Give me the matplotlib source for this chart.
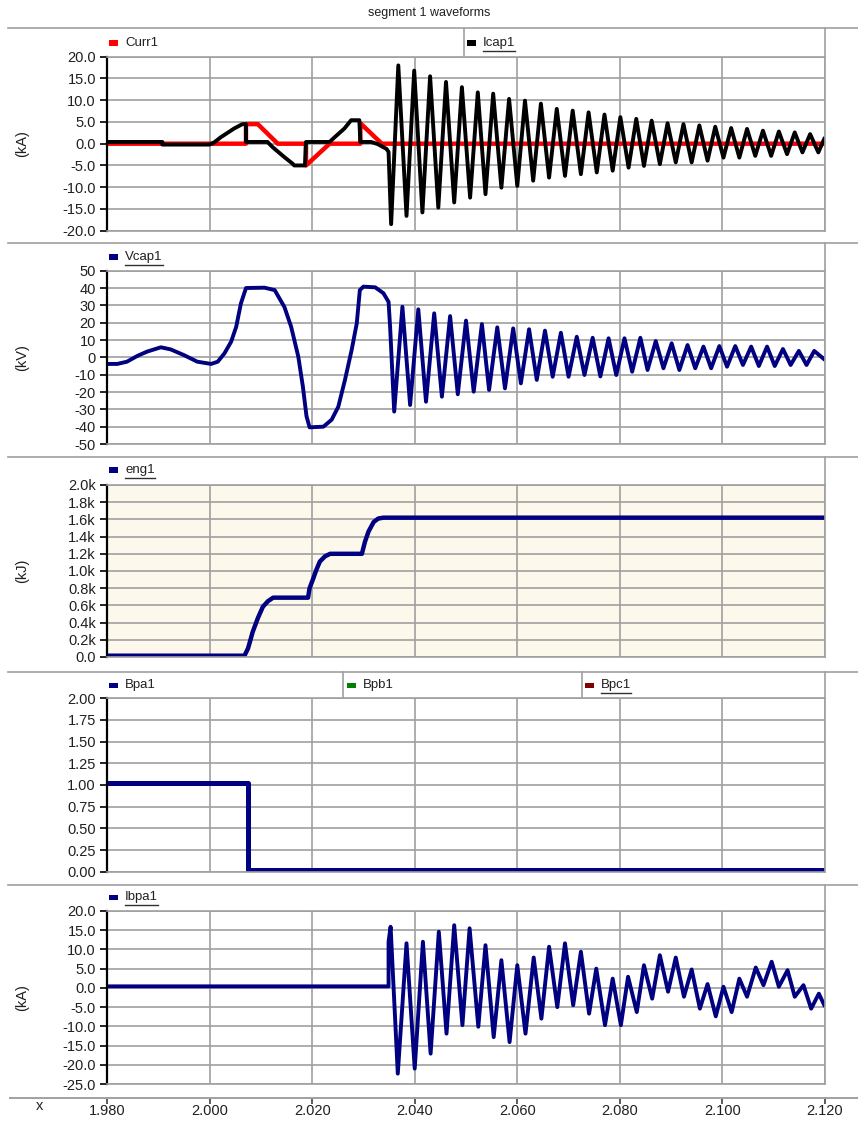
import numpy as np
import matplotlib
matplotlib.use("Agg")
import matplotlib.pyplot as plt
from matplotlib.lines import Line2D
from matplotlib.patches import Rectangle
from matplotlib.ticker import FixedLocator, FuncFormatter

plt.rcParams['font.family'] = ['Liberation Sans', 'DejaVu Sans']

# ---- data (time in s) ----
x_ticks = [1.980, 2.000, 2.020, 2.040, 2.060, 2.080, 2.100, 2.120]
x_tick_labels = ['1.980', '2.000', '2.020', '2.040', '2.060', '2.080', '2.100', '2.120']

# Curr1 (kA)
curr_t = [1.980, 2.0071, 2.0071, 2.0094, 2.0133, 2.0188, 2.0188, 2.0234, 2.0294, 2.0294, 2.0336, 2.120]
curr_v = [0.0, 0.0, 4.5, 4.5, 0.0, 0.0, -5.0, 0.0, 0.0, 4.7, 0.0, 0.0]

# Icap1 (kA): switching part, then ringing peaks / troughs
icap_pre_t = [1.980, 1.9908, 1.9908, 2.0000, 2.0009, 2.0022, 2.0048, 2.0064, 2.0071, 2.0071,
              2.0113, 2.0123, 2.0146, 2.0162, 2.0165, 2.0186, 2.0188, 2.0234, 2.0244, 2.0263,
              2.0276, 2.0292, 2.0294, 2.0315, 2.0328, 2.0345, 2.0349, 2.0354]
icap_pre_v = [0.4, 0.4, -0.2, -0.2, 0.3, 1.5, 3.5, 4.5, 4.5, 0.4,
              0.4, -0.8, -3.1, -4.6, -5.0, -5.0, 0.4, 0.4, 1.5, 3.5,
              5.4, 5.4, 0.4, 0.4, -0.1, -1.2, -1.9, -18.5]
icap_peak_t = [2.0368, 2.0399, 2.0430, 2.0461, 2.0492, 2.0523, 2.0553, 2.0584, 2.0615, 2.0646,
               2.0677, 2.0708, 2.0739, 2.0770, 2.0801, 2.0832, 2.0862, 2.0893, 2.0924, 2.0955,
               2.0986, 2.1017, 2.1048, 2.1079, 2.1110, 2.1141, 2.1171]
icap_peak_v = [18.0, 16.8, 15.5, 14.2, 13.0, 11.8, 11.5, 10.3, 9.9, 9.2,
               8.0, 7.6, 7.2, 6.7, 6.1, 5.7, 5.3, 4.7, 4.5, 4.2,
               3.9, 3.6, 3.4, 3.0, 2.8, 2.6, 2.2]
icap_trough_t = [2.0384, 2.0415, 2.0446, 2.0477, 2.0508, 2.0538, 2.0569, 2.0600, 2.0631, 2.0662,
                 2.0693, 2.0724, 2.0755, 2.0786, 2.0817, 2.0847, 2.0878, 2.0909, 2.0940, 2.0971,
                 2.1002, 2.1033, 2.1064, 2.1095, 2.1126, 2.1156, 2.1187]
icap_trough_v = [-16.6, -15.8, -14.7, -13.5, -12.4, -11.6, -10.1, -9.7, -8.5, -7.8,
                 -7.4, -7.0, -6.6, -6.2, -5.5, -5.1, -4.7, -4.3, -4.3, -3.9,
                 -3.2, -3.2, -2.8, -2.8, -2.4, -2.0, -2.0]
icap_end = (2.120, 1.5)

# Vcap1 (kV)
vcap_pre_t = [1.980, 1.9820, 1.9839, 1.9859, 1.9878, 1.9905, 1.9924, 1.9950, 1.9976, 2.0003,
              2.0016, 2.0029, 2.0042, 2.0052, 2.0061, 2.0071, 2.0107, 2.0127, 2.0146, 2.0159,
              2.0173, 2.0182, 2.0189, 2.0195, 2.0222, 2.0238, 2.0251, 2.0264, 2.0277, 2.0287,
              2.0293, 2.0300, 2.0323, 2.0339, 2.0349, 2.0352]
vcap_pre_v = [-3.8, -3.8, -2.5, 0.8, 3.3, 5.8, 4.6, 1.3, -2.5, -3.8,
              -2.5, 2.3, 9.0, 17.7, 31.0, 40.0, 40.2, 38.8, 29.0, 17.7,
              0.4, -17.0, -34.0, -40.4, -40.0, -36.0, -28.5, -13.0, 4.2, 19.6,
              38.8, 40.8, 40.4, 37.0, 32.0, 17.7]
vcap_trough_t = [2.0360, 2.0391, 2.0422, 2.0453, 2.0484, 2.0515, 2.0545, 2.0576, 2.0607, 2.0638,
                 2.0669, 2.0700, 2.0731, 2.0762, 2.0793, 2.0824, 2.0854, 2.0885, 2.0916, 2.0947,
                 2.0978, 2.1009, 2.1040, 2.1071, 2.1102, 2.1133, 2.1164]
vcap_trough_v = [-31.3, -27.5, -25.6, -22.7, -21.3, -19.8, -18.8, -17.9, -15.0, -13.0,
                 -11.2, -11.2, -10.2, -11.0, -10.2, -8.3, -7.3, -6.3, -7.3, -6.3,
                 -6.3, -5.4, -4.4, -5.0, -5.0, -4.4, -4.4]
vcap_peak_t = [2.0376, 2.0407, 2.0438, 2.0469, 2.0500, 2.0531, 2.0561, 2.0592, 2.0623, 2.0654,
               2.0685, 2.0716, 2.0747, 2.0778, 2.0809, 2.0840, 2.0870, 2.0901, 2.0932, 2.0963,
               2.0994, 2.1025, 2.1056, 2.1087, 2.1118, 2.1149, 2.1179]
vcap_peak_v = [29.2, 27.7, 25.4, 23.8, 21.2, 19.2, 17.3, 16.7, 16.2, 15.4,
               14.2, 11.9, 11.3, 11.0, 11.0, 11.3, 9.4, 8.1, 7.1, 6.2,
               6.5, 6.5, 6.2, 6.2, 4.8, 3.7, 3.7]
vcap_end = (2.120, -1.5)

# eng1 (kJ)
eng_t = [1.980, 2.0068, 2.0075, 2.0084, 2.0094, 2.0104, 2.0114, 2.0124, 2.0192, 2.0195,
         2.0202, 2.0208, 2.0215, 2.0225, 2.0235, 2.0297, 2.0303, 2.0310, 2.0320, 2.0329,
         2.0339, 2.120]
eng_v = [15, 15, 100, 290, 450, 585, 650, 690, 690, 800,
         910, 1010, 1110, 1170, 1200, 1200, 1340, 1460, 1570, 1610,
         1620, 1620]

# Bpa1
bpa_t = [1.980, 2.0074, 2.0074, 2.120]
bpa_v = [1.02, 1.02, 0.02, 0.02]

# Ibpa1 (kA)
ibpa_t = [1.980, 2.0349, 2.0349, 2.0353, 2.0367, 2.0384, 2.0400, 2.0416, 2.0431, 2.0447,
          2.0462, 2.0477, 2.0493, 2.0507, 2.0524, 2.0538, 2.0554, 2.0569, 2.0585, 2.0600,
          2.0616, 2.0632, 2.0647, 2.0662, 2.0678, 2.0693, 2.0709, 2.0724, 2.0740, 2.0754,
          2.0771, 2.0786, 2.0802, 2.0816, 2.0833, 2.0847, 2.0863, 2.0878, 2.0894, 2.0909,
          2.0925, 2.0940, 2.0956, 2.0971, 2.0987, 2.1002, 2.1018, 2.1033, 2.1048, 2.1065,
          2.1080, 2.1096, 2.1110, 2.1127, 2.1141, 2.1158, 2.1173, 2.1188, 2.1200]
ibpa_v = [0.4, 0.4, 12.0, 15.9, -22.3, 11.6, -21.0, 12.0, -17.1, 14.6,
          -11.9, 16.3, -9.7, 15.5, -10.1, 11.1, -12.8, 7.2, -14.1, 5.9,
          -11.9, 7.9, -8.0, 10.7, -5.0, 11.6, -4.5, 9.4, -6.7, 5.0,
          -9.7, 2.4, -9.7, 2.9, -6.3, 5.9, -2.8, 8.5, -1.0, 7.9,
          -2.3, 4.8, -5.4, 1.0, -7.4, 0.3, -6.3, 2.4, -2.3, 5.3,
          0.7, 6.8, 0.3, 4.6, -2.3, 0.7, -5.4, -1.5, -4.9]

# ---- build the ringing traces (interleave extrema) ----
icap_t = icap_pre_t + list(np.ravel(np.column_stack([icap_peak_t, icap_trough_t]))) + [icap_end[0]]
icap_v = icap_pre_v + list(np.ravel(np.column_stack([icap_peak_v, icap_trough_v]))) + [icap_end[1]]
vcap_t = vcap_pre_t + list(np.ravel(np.column_stack([vcap_trough_t, vcap_peak_t]))) + [vcap_end[0]]
vcap_v = vcap_pre_v + list(np.ravel(np.column_stack([vcap_trough_v, vcap_peak_v]))) + [vcap_end[1]]

# ---- layout (pixel based) ----
W, H = 858, 1122
fig = plt.figure(figsize=(W / 100, H / 100), dpi=100)

def fx(px):
    return px / W

def fy(py):
    return 1 - py / H

X0, X1 = 107, 825
GRID = '#A0A0A0'
NAVY = '#000080'
LW = 2.8
TSIZE = 10.5

def make_axes(top, bot, ylim, yticks, fmt, ylabel, face='white'):
    ax = fig.add_axes([fx(X0), fy(bot), fx(X1) - fx(X0), fy(top) - fy(bot)], facecolor=face)
    ax.set_xlim(x_ticks[0], x_ticks[-1])
    ax.set_ylim(*ylim)
    ax.xaxis.set_major_locator(FixedLocator(x_ticks))
    ax.yaxis.set_major_locator(FixedLocator(yticks))
    ax.yaxis.set_major_formatter(FuncFormatter(fmt))
    ax.grid(True, color=GRID, lw=1.2)
    ax.set_axisbelow(True)
    ax.tick_params(axis='x', length=0, labelbottom=False)
    ax.tick_params(axis='y', length=5, width=1.2, color='black', pad=3, labelsize=TSIZE,
                   labelcolor='#202020')
    for s in ['top', 'right', 'bottom']:
        ax.spines[s].set_color(GRID)
        ax.spines[s].set_linewidth(1.2)
    ax.spines['left'].set_color('black')
    ax.spines['left'].set_linewidth(1.6)
    if ylabel:
        fig.text(fx(22), fy((top + bot) / 2), ylabel, rotation=90, ha='center', va='center',
                 fontsize=10.5, color='#202020')
    return ax

line_kw = dict(solid_joinstyle='round', solid_capstyle='butt')

ax1 = make_axes(56.7, 230.7, (-20, 20), [-20, -15, -10, -5, 0, 5, 10, 15, 20],
                lambda v, p: f'{v:.1f}', '(kA)')
ax1.plot(curr_t, curr_v, color='#FF0000', lw=LW + 0.4, **line_kw)
ax1.plot(icap_t, icap_v, color='black', lw=LW, **line_kw)

ax2 = make_axes(270.7, 444, (-50, 50), [-50, -40, -30, -20, -10, 0, 10, 20, 30, 40, 50],
                lambda v, p: f'{v:.0f}', '(kV)')
ax2.plot(vcap_t, vcap_v, color=NAVY, lw=LW, **line_kw)

ax3 = make_axes(485, 657, (0, 2000), [0, 200, 400, 600, 800, 1000, 1200, 1400, 1600, 1800, 2000],
                lambda v, p: '0.0' if v == 0 else f'{v / 1000:.1f}k', '(kJ)', face='#FDF8EC')
ax3.plot(eng_t, eng_v, color=NAVY, lw=LW + 0.4, **line_kw)

ax4 = make_axes(698.3, 871.7, (0, 2), [0, 0.25, 0.5, 0.75, 1.0, 1.25, 1.5, 1.75, 2.0],
                lambda v, p: f'{v:.2f}', None)
ax4.plot(bpa_t, bpa_v, color=NAVY, lw=LW + 0.8, **line_kw)

ax5 = make_axes(911, 1084, (-25, 20), [-25, -20, -15, -10, -5, 0, 5, 10, 15, 20],
                lambda v, p: f'{v:.1f}', '(kA)')
ax5.plot(ibpa_t, ibpa_v, color=NAVY, lw=LW, **line_kw)

# shared x axis strip
axx = fig.add_axes([fx(X0), fy(1098), fx(X1) - fx(X0), 0.0001])
axx.set_xlim(x_ticks[0], x_ticks[-1])
axx.set_xticks(x_ticks)
axx.set_xticklabels(x_tick_labels)
axx.set_yticks([])
for s in axx.spines.values():
    s.set_visible(False)
axx.patch.set_visible(False)
axx.tick_params(axis='x', direction='out', length=4, width=1.2, color='#404040', pad=0.5,
                labelsize=TSIZE, labelcolor='#202020')
fig.text(fx(40), fy(1106), 'x', ha='center', va='center', fontsize=10.5, color='#202020')
fig.add_artist(Line2D([fx(10), 1.0], [fy(1098), fy(1098)], color=GRID, lw=1.4))

# title and separators
fig.text(0.5, fy(13), 'segment 1 waveforms', ha='center', va='center', fontsize=9, color='#202020')
for y in [28, 243, 457, 672, 885]:
    fig.add_artist(Line2D([fx(8), 1.0], [fy(y), fy(y)], color=GRID, lw=1.2))

# legend cell dividers
dividers = [(464, 28, 56), (825, 28, 56), (825, 243, 270), (825, 457, 485),
            (343, 672, 698), (582, 672, 698), (825, 672, 698), (825, 885, 911)]
for x, y0, y1 in dividers:
    fig.add_artist(Line2D([fx(x), fx(x)], [fy(y0), fy(y1)], color=GRID, lw=1.2))

# legend entries
legend_items = [
    (109, 43, 'Curr1', '#FF0000', False),
    (467, 43, 'Icap1', 'black', True),
    (109, 257, 'Vcap1', NAVY, True),
    (109, 470, 'eng1', NAVY, True),
    (109, 685, 'Bpa1', NAVY, False),
    (347, 685, 'Bpb1', '#008000', False),
    (585, 685, 'Bpc1', '#800000', True),
    (109, 897, 'Ibpa1', NAVY, True),
]
renderer = fig.canvas.get_renderer()
for x, y, label, col, under in legend_items:
    fig.add_artist(Rectangle((fx(x), fy(y + 2.5)), fx(9), 5 / H, color=col, lw=0))
    t = fig.text(fx(x + 16), fy(y), label, ha='left', va='center', fontsize=9.5, color='#202020')
    if under:
        bb = t.get_window_extent(renderer).transformed(fig.transFigure.inverted())
        fig.add_artist(Line2D([bb.x0, bb.x1], [bb.y0 - 1.5 / H, bb.y0 - 1.5 / H],
                              color='#303030', lw=1.0))

fig.savefig('out.png', dpi=100)
